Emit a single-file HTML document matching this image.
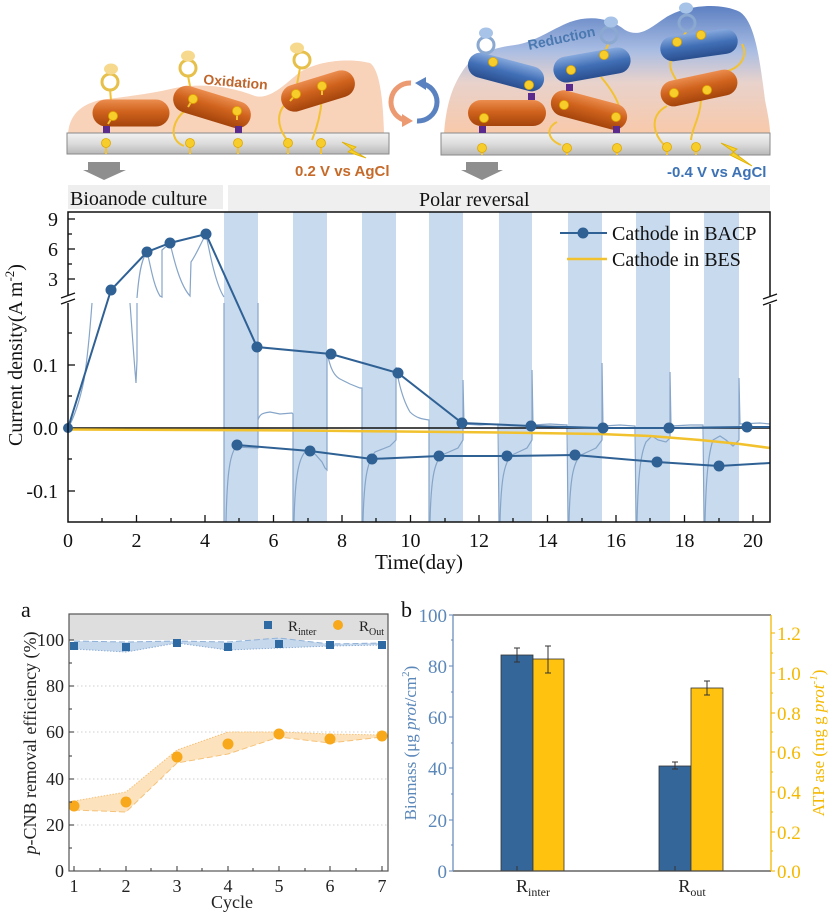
<!DOCTYPE html>
<html>
<head>
<meta charset="utf-8">
<style>
  html,body{margin:0;padding:0;background:#fff;}
  svg{display:block;}
  .serif{font-family:"Liberation Serif","DejaVu Serif",serif;}
  .sans{font-family:"Liberation Sans","DejaVu Sans",sans-serif;}
</style>
</head>
<body>
<svg width="834" height="916" viewBox="0 0 834 916" xmlns="http://www.w3.org/2000/svg">
<defs>
  <linearGradient id="og" x1="0" y1="0" x2="0" y2="1">
    <stop offset="0" stop-color="#eb8d4f"/>
    <stop offset="0.45" stop-color="#d0631d"/>
    <stop offset="1" stop-color="#a4440c"/>
  </linearGradient>
  <linearGradient id="bg" x1="0" y1="0" x2="0" y2="1">
    <stop offset="0" stop-color="#86a9dd"/>
    <stop offset="0.5" stop-color="#416fb6"/>
    <stop offset="1" stop-color="#2a4e8e"/>
  </linearGradient>
  <linearGradient id="bar" x1="0" y1="0" x2="0" y2="1">
    <stop offset="0" stop-color="#f2f2f2"/>
    <stop offset="0.5" stop-color="#dcdcdc"/>
    <stop offset="1" stop-color="#b8b8b8"/>
  </linearGradient>
  <linearGradient id="film2" x1="0" y1="0" x2="0" y2="1">
    <stop offset="0" stop-color="#5d80c2"/>
    <stop offset="0.35" stop-color="#a9bde3"/>
    <stop offset="0.6" stop-color="#e8d2cc"/>
    <stop offset="1" stop-color="#f8c9aa"/>
  </linearGradient>
</defs>

<!-- ================= SCHEMATIC LEFT ================= -->
<path d="M68,133 C70,115 80,105 100,100 C130,96 150,94 175,88 C200,83 230,86 255,96 C270,100 285,84 300,72 C320,60 350,58 370,63 C380,70 383,100 384,133 Z" fill="#f8d2b9"/>
<rect x="67" y="133" width="322" height="21" fill="url(#bar)" stroke="#8a8a8a" stroke-width="1"/>
<g fill="none" stroke="#f2c232" stroke-width="2">
  <path d="M186,110 C172,120 168,140 184,146"/>
  <path d="M290,100 C276,110 276,125 287,140"/>
  <path d="M322,92 C322,110 318,125 312,140"/>
  <path d="M110,89 L112,112"/>
  <path d="M188,76 L192,96"/>
  <path d="M300,68 L296,90"/>
</g>
<g fill="none" stroke="#e6c04a" stroke-width="3">
  <circle cx="110" cy="82" r="8"/>
  <circle cx="188" cy="68" r="8"/>
  <circle cx="302" cy="60" r="8"/>
</g>
<g fill="#f7d98e">
  <ellipse cx="111" cy="69" rx="7" ry="5.5"/>
  <ellipse cx="188" cy="56" rx="7" ry="5.5"/>
  <ellipse cx="297" cy="48" rx="7" ry="5.5"/>
</g>
<g transform="translate(131,113)"><rect x="-38.5" y="-13.5" width="77" height="27" rx="13.5" fill="url(#og)"/></g>
<g transform="translate(212,107) rotate(17)"><rect x="-40" y="-13.5" width="80" height="27" rx="13.5" fill="url(#og)"/></g>
<g transform="translate(318,91) rotate(-17)"><rect x="-38" y="-13.5" width="76" height="27" rx="13.5" fill="url(#og)"/></g>
<rect x="103" y="126" width="7" height="7" fill="#5a2a8c"/>
<rect x="235" y="126" width="7" height="7" fill="#5a2a8c"/>
<g stroke="#f2c232" stroke-width="2">
  <line x1="106" y1="143" x2="106" y2="154"/><line x1="190" y1="143" x2="190" y2="154"/>
  <line x1="238" y1="143" x2="238" y2="154"/><line x1="288" y1="143" x2="288" y2="154"/>
  <line x1="321" y1="143" x2="321" y2="154"/>
  <line x1="113" y1="116" x2="108" y2="124"/><line x1="193" y1="99" x2="188" y2="107"/>
  <line x1="237" y1="111" x2="237" y2="120"/><line x1="296" y1="94" x2="290" y2="101"/>
  <line x1="322" y1="86" x2="322" y2="95"/>
</g>
<g fill="#f7cd2b" stroke="#e0a800" stroke-width="0.8">
  <circle cx="106" cy="143" r="4.5"/><circle cx="190" cy="143" r="4.5"/><circle cx="238" cy="143" r="4.5"/>
  <circle cx="288" cy="143" r="4.5"/><circle cx="321" cy="143" r="4.5"/>
  <circle cx="113" cy="116" r="4.5"/><circle cx="193" cy="99" r="4.5"/><circle cx="237" cy="111" r="4.5"/>
  <circle cx="296" cy="94" r="4.5"/><circle cx="322" cy="86" r="4.5"/>
</g>
<text x="203" y="84" class="sans" font-size="14" font-weight="bold" fill="#c0662c" transform="rotate(5 203 84)">Oxidation</text>
<polygon points="342,142 356,147 352,150 366,158 348,152 352,149" fill="#f6d02a" stroke="#e0b000" stroke-width="0.8"/>
<text x="295" y="176" class="sans" font-size="15" font-weight="bold" fill="#c66a2a">0.2 V vs AgCl</text>
<polygon points="88,162 120,162 120,170 126,170 104,180 83,170 88,170" fill="#8e8e8e"/>

<!-- circular arrows -->
<path d="M411,83 A19,19 0 0 0 404,120" fill="none" stroke="#ec9a72" stroke-width="5"/>
<polygon points="402,114 413,121 402,127" fill="#ec9a72"/>
<path d="M417,121 A19,19 0 0 0 424,84" fill="none" stroke="#5b82c0" stroke-width="5"/>
<polygon points="426,77 415,83 426,90" fill="#5b82c0"/>

<!-- ================= SCHEMATIC RIGHT ================= -->
<path d="M444,133 C446,110 450,90 462,72 C472,55 490,48 515,45 C535,42 550,30 570,22 C590,15 610,18 625,30 C640,38 650,28 665,18 C685,5 720,2 740,12 C755,22 760,60 765,100 C768,115 770,125 770,133 Z" fill="url(#film2)"/>
<rect x="441" y="133" width="329" height="22" fill="url(#bar)" stroke="#8a8a8a" stroke-width="1"/>
<g fill="none" stroke="#f2c232" stroke-width="2">
  <path d="M557,122 C545,128 548,140 561,145"/>
  <path d="M601,77 C612,90 618,100 620,110"/>
  <path d="M671,60 C668,70 675,76 677,82"/>
  <path d="M724,72 C742,68 748,55 742,44"/>
  <path d="M667,106 C650,115 652,132 664,145"/>
  <path d="M701,100 C700,118 692,128 691,140"/>
  <path d="M486,53 L492,60"/>
  <path d="M609,43 L604,53"/>
  <path d="M687,31 L680,40"/>
</g>
<g fill="none" stroke="#8aa8d0" stroke-width="3">
  <circle cx="486" cy="45" r="8"/>
  <circle cx="609" cy="35" r="8"/>
  <circle cx="687" cy="23" r="8"/>
</g>
<g fill="#a7c3e8">
  <ellipse cx="486" cy="33" rx="7" ry="5.5"/>
  <ellipse cx="611" cy="22" rx="7" ry="5.5"/>
  <ellipse cx="686" cy="8" rx="7" ry="5.5"/>
</g>
<g transform="translate(507,113)"><rect x="-39" y="-13" width="78" height="26" rx="13" fill="url(#og)"/></g>
<g transform="translate(589,110) rotate(15)"><rect x="-39" y="-13" width="78" height="26" rx="13" fill="url(#og)"/></g>
<g transform="translate(699,88) rotate(-12)"><rect x="-39" y="-13" width="78" height="26" rx="13" fill="url(#og)"/></g>
<g transform="translate(506,72) rotate(15)"><rect x="-39" y="-12.5" width="78" height="25" rx="12.5" fill="url(#bg)"/></g>
<g transform="translate(592,65) rotate(-10)"><rect x="-39" y="-13" width="78" height="26" rx="13" fill="url(#bg)"/></g>
<g transform="translate(699,45) rotate(-8)"><rect x="-39" y="-12.5" width="78" height="25" rx="12.5" fill="url(#bg)"/></g>
<g fill="#5a2a8c">
  <rect x="528" y="93" width="7" height="7"/><rect x="566" y="84" width="7" height="7"/>
  <rect x="479" y="126" width="7" height="7"/><rect x="613" y="126" width="7" height="7"/>
</g>
<g stroke="#f2c232" stroke-width="2">
  <line x1="482" y1="148" x2="482" y2="155"/><line x1="567" y1="148" x2="567" y2="155"/>
  <line x1="617" y1="148" x2="617" y2="155"/><line x1="667" y1="147" x2="667" y2="155"/>
  <line x1="696" y1="147" x2="696" y2="155"/>
</g>
<g fill="#f7cd2b" stroke="#e0a800" stroke-width="0.8">
  <circle cx="482" cy="148" r="4.5"/><circle cx="567" cy="148" r="4.5"/><circle cx="617" cy="148" r="4.5"/>
  <circle cx="667" cy="147" r="4.5"/><circle cx="696" cy="147" r="4.5"/>
  <circle cx="493" cy="62" r="4.5"/><circle cx="529" cy="85" r="4.5"/><circle cx="571" cy="70" r="4.5"/>
  <circle cx="604" cy="55" r="4.5"/><circle cx="677" cy="42" r="4.5"/><circle cx="701" cy="35" r="4.5"/>
  <circle cx="484" cy="118" r="4.5"/><circle cx="564" cy="105" r="4.5"/><circle cx="616" cy="117" r="4.5"/>
  <circle cx="674" cy="93" r="4.5"/><circle cx="707" cy="90" r="4.5"/>
</g>
<text x="529" y="50" class="sans" font-size="14" font-weight="bold" fill="#4a78b0" transform="rotate(-12 529 50)">Reduction</text>
<polygon points="721,143 737,149 733,152 752,166 730,155 734,152" fill="#f6d02a" stroke="#e0b000" stroke-width="0.8"/>
<text x="667" y="177" class="sans" font-size="15" font-weight="bold" fill="#3d72b5">-0.4 V vs AgCl</text>
<polygon points="466,162 498,162 498,170 503,170 482,180 461,170 466,170" fill="#8e8e8e"/>

<!-- ================= MAIN CHART ================= -->
<rect x="68" y="185" width="155" height="24" fill="#eeeeee"/>
<text x="70" y="205" class="serif" font-size="20" fill="#111">Bioanode culture</text>
<rect x="228" y="185" width="542" height="27" fill="#efefef"/>
<text x="419" y="206" class="serif" font-size="20" fill="#111">Polar reversal</text>

<g fill="#c8daee">
  <rect x="224" y="212" width="34" height="310"/>
  <rect x="293" y="212" width="34" height="310"/>
  <rect x="362" y="212" width="34" height="310"/>
  <rect x="429" y="212" width="34" height="310"/>
  <rect x="499" y="212" width="33" height="310"/>
  <rect x="568" y="212" width="34" height="310"/>
  <rect x="636" y="212" width="34" height="310"/>
  <rect x="704" y="212" width="35" height="310"/>
</g>

<g fill="none" stroke="#86a5c8" stroke-width="1.2">
  <path d="M68,428 C74,418 80,400 84,380 C88,355 90,330 92,303"/>
  <path d="M130,303 C132,330 134,360 136,383 L137,360 L137,303"/>
  <path d="M137,298 C139,272 142,258 147,252 C150,262 153,285 160,296 L162,297 L162,250 L170,243 C174,260 180,285 190,296 L191,262 C196,255 200,245 206,234 C210,255 216,285 224,297"/>
  <path d="M224,303 L224,522"/>
  <path d="M226,522 C227,480 229,455 236,447 L257,448 L258,448 L258,303 M258,420 C260,413 264,413 270,412 L280,414 L292,413 L293,414 L293,522"/>
  <path d="M294,522 C295,480 298,460 305,452 L315,454 L322,462 L325,468 L327,470 L327,352 C330,368 334,377 342,380 L350,384 L360,388 L362,388 L362,522"/>
  <path d="M363,522 C364,480 367,462 375,452 L390,446 L396,440 L396,367 C399,385 404,402 410,412 C416,418 422,419 429,420 L429,522"/>
  <path d="M430,522 C431,480 434,462 442,455 L458,448 L463,440 L463,380 L464,424 L480,425 L498,424 L499,522"/>
  <path d="M500,522 C501,480 504,462 512,455 L527,448 L532,440 L532,370 L533,425 L550,424 L567,425 L568,522"/>
  <path d="M569,522 C570,480 573,462 581,455 L596,448 L602,440 L602,363 L603,426 L620,425 L635,426 L636,522"/>
  <path d="M637,522 C638,480 640,455 646,442 L652,436 L658,440 L666,442 L670,438 L670,372 L671,426 L690,425 L703,425 L704,522"/>
  <path d="M705,522 C706,480 708,455 713,440 L720,436 L726,440 L733,446 L739,440 L739,378 L740,424 L760,423 L770,424"/>
</g>

<line x1="68" y1="428" x2="770" y2="428" stroke="#111" stroke-width="1.5"/>
<path d="M68,429.5 L300,430.5 L400,431.5 L500,432.5 L600,434 L650,436 L700,440 L740,444 L770,448" fill="none" stroke="#f2c12e" stroke-width="2.5"/>

<g fill="none" stroke="#2f6195" stroke-width="2">
  <polyline points="68,428 111,290 147,252 170,243 206,234 257,347 331,354 398,373 462,423 531,426 603,428 669,428 747,427 770,427"/>
  <polyline points="237,445 310,451 372,459 439,456 507,456 575,455 657,462 719,466 770,463"/>
</g>
<g fill="#2f6195">
  <circle cx="68" cy="428" r="5"/><circle cx="111" cy="290" r="5.5"/><circle cx="147" cy="252" r="5.5"/>
  <circle cx="170" cy="243" r="5.5"/><circle cx="206" cy="234" r="5.5"/><circle cx="257" cy="347" r="5.5"/>
  <circle cx="331" cy="354" r="5.5"/><circle cx="398" cy="373" r="5.5"/><circle cx="462" cy="423" r="5.5"/>
  <circle cx="531" cy="426" r="5.5"/><circle cx="603" cy="428" r="5.5"/><circle cx="669" cy="428" r="5.5"/>
  <circle cx="747" cy="427" r="5.5"/>
  <circle cx="237" cy="445" r="5.5"/><circle cx="310" cy="451" r="5.5"/><circle cx="372" cy="459" r="5.5"/>
  <circle cx="439" cy="456" r="5.5"/><circle cx="507" cy="456" r="5.5"/><circle cx="575" cy="455" r="5.5"/>
  <circle cx="657" cy="462" r="5.5"/><circle cx="719" cy="466" r="5.5"/>
</g>

<rect x="68" y="212" width="702" height="310" fill="none" stroke="#111" stroke-width="1.5"/>
<rect x="64" y="295" width="8" height="8" fill="#fff"/>
<line x1="61" y1="298" x2="75" y2="293" stroke="#111" stroke-width="1.3"/>
<line x1="61" y1="304" x2="75" y2="299" stroke="#111" stroke-width="1.3"/>
<rect x="766" y="296" width="8" height="8" fill="#fff"/>
<line x1="763" y1="299" x2="777" y2="294" stroke="#111" stroke-width="1.3"/>
<line x1="763" y1="305" x2="777" y2="300" stroke="#111" stroke-width="1.3"/>

<g stroke="#111" stroke-width="1.3">
  <line x1="68" y1="219" x2="75" y2="219"/><line x1="68" y1="234" x2="72" y2="234"/>
  <line x1="68" y1="249" x2="75" y2="249"/><line x1="68" y1="264" x2="72" y2="264"/>
  <line x1="68" y1="279" x2="75" y2="279"/>
  <line x1="68" y1="333" x2="72" y2="333"/><line x1="68" y1="365" x2="75" y2="365"/>
  <line x1="68" y1="396" x2="72" y2="396"/><line x1="68" y1="459" x2="72" y2="459"/>
  <line x1="68" y1="491" x2="75" y2="491"/>
</g>
<g stroke="#111" stroke-width="1.3">
  <line x1="136.5" y1="522" x2="136.5" y2="515"/><line x1="205" y1="522" x2="205" y2="515"/>
  <line x1="273.5" y1="522" x2="273.5" y2="515"/><line x1="342" y1="522" x2="342" y2="515"/>
  <line x1="410.5" y1="522" x2="410.5" y2="515"/><line x1="479" y1="522" x2="479" y2="515"/>
  <line x1="547.5" y1="522" x2="547.5" y2="515"/><line x1="616" y1="522" x2="616" y2="515"/>
  <line x1="684.5" y1="522" x2="684.5" y2="515"/><line x1="753" y1="522" x2="753" y2="515"/>
  <line x1="102" y1="522" x2="102" y2="518"/><line x1="171" y1="522" x2="171" y2="518"/>
  <line x1="239" y1="522" x2="239" y2="518"/><line x1="308" y1="522" x2="308" y2="518"/>
  <line x1="376" y1="522" x2="376" y2="518"/><line x1="445" y1="522" x2="445" y2="518"/>
  <line x1="513" y1="522" x2="513" y2="518"/><line x1="582" y1="522" x2="582" y2="518"/>
  <line x1="650" y1="522" x2="650" y2="518"/><line x1="719" y1="522" x2="719" y2="518"/>
</g>
<g class="serif" font-size="20" fill="#111" text-anchor="end">
  <text x="58" y="226">9</text><text x="58" y="256">6</text><text x="58" y="286">3</text>
  <text x="58" y="372">0.1</text><text x="58" y="435">0.0</text><text x="58" y="498">-0.1</text>
</g>
<g class="serif" font-size="20" fill="#111" text-anchor="middle">
  <text x="68" y="547">0</text><text x="136.5" y="547">2</text><text x="205" y="547">4</text>
  <text x="273.5" y="547">6</text><text x="342" y="547">8</text><text x="410.5" y="547">10</text>
  <text x="479" y="547">12</text><text x="547.5" y="547">14</text><text x="616" y="547">16</text>
  <text x="684.5" y="547">18</text><text x="753" y="547">20</text>
  <text x="419" y="569" font-size="21">Time(day)</text>
</g>
<text transform="translate(22,355) rotate(-90)" class="serif" font-size="20" fill="#111" text-anchor="middle">Current density(A m<tspan font-size="13" dy="-8">-2</tspan><tspan dy="8">)</tspan></text>

<line x1="560" y1="233" x2="607" y2="233" stroke="#2f6195" stroke-width="2"/>
<circle cx="583" cy="233" r="5.5" fill="#2f6195"/>
<text x="612" y="240" class="serif" font-size="20" fill="#111">Cathode in BACP</text>
<line x1="567" y1="259" x2="607" y2="259" stroke="#f2c12e" stroke-width="2.5"/>
<text x="612" y="266" class="serif" font-size="20" fill="#111">Cathode in BES</text>

<!-- ================= PANEL A ================= -->
<text x="21" y="617" class="serif" font-size="22" fill="#111">a</text>
<rect x="69" y="614" width="319" height="26" fill="#dedede"/>
<g stroke="#cfcfcf" stroke-width="1" stroke-dasharray="1.5,2.5">
  <line x1="69" y1="825" x2="388" y2="825"/><line x1="69" y1="779" x2="388" y2="779"/>
  <line x1="69" y1="732" x2="388" y2="732"/><line x1="69" y1="686" x2="388" y2="686"/>
</g>
<polygon points="74,641 126,642 177,641 228,642 279,638 330,644 382,643 382,645 330,646 279,648 228,650 177,643 126,652 74,649" fill="#c6d8ec"/>
<polyline points="74,641 126,642 177,641 228,642 279,638 330,644 382,643" fill="none" stroke="#8fb0d6" stroke-width="1" stroke-dasharray="6,3"/>
<polyline points="74,649 126,652 177,643 228,650 279,648 330,646 382,645" fill="none" stroke="#8fb0d6" stroke-width="1" stroke-dasharray="1.5,1.5"/>
<polygon points="74,801 126,792 177,750 228,732 279,732 330,734 382,735 382,737 330,743 279,737 228,754 177,763 126,812 74,810" fill="#fde3bd"/>
<polyline points="74,801 126,792 177,750 228,732 279,732 330,734 382,735" fill="none" stroke="#f5c27a" stroke-width="1" stroke-dasharray="1.5,1.5"/>
<polyline points="74,810 126,812 177,763 228,754 279,737 330,743 382,737" fill="none" stroke="#f5c27a" stroke-width="1" stroke-dasharray="6,3"/>
<g fill="#2f6aa3">
  <rect x="70" y="642" width="8" height="8"/><rect x="122" y="643" width="8" height="8"/>
  <rect x="173" y="639" width="8" height="8"/><rect x="224" y="643" width="8" height="8"/>
  <rect x="275" y="640" width="8" height="8"/><rect x="326" y="641" width="8" height="8"/>
  <rect x="378" y="641" width="8" height="8"/>
</g>
<g fill="#f7a81b">
  <circle cx="74" cy="806" r="5.5"/><circle cx="126" cy="802" r="5.5"/><circle cx="177" cy="757" r="5.5"/>
  <circle cx="228" cy="744" r="5.5"/><circle cx="279" cy="734" r="5.5"/><circle cx="330" cy="739" r="5.5"/>
  <circle cx="382" cy="736" r="5.5"/>
</g>
<rect x="69" y="614" width="319" height="257" fill="none" stroke="#555" stroke-width="1.2"/>
<g stroke="#444" stroke-width="1.1">
  <line x1="69" y1="825" x2="74" y2="825"/><line x1="69" y1="779" x2="74" y2="779"/>
  <line x1="69" y1="732" x2="74" y2="732"/><line x1="69" y1="686" x2="74" y2="686"/>
  <line x1="69" y1="640" x2="74" y2="640"/>
  <line x1="69" y1="848" x2="72" y2="848"/><line x1="69" y1="802" x2="72" y2="802"/>
  <line x1="69" y1="756" x2="72" y2="756"/><line x1="69" y1="709" x2="72" y2="709"/>
  <line x1="69" y1="663" x2="72" y2="663"/>
  <line x1="74" y1="871" x2="74" y2="866"/><line x1="126" y1="871" x2="126" y2="866"/>
  <line x1="177" y1="871" x2="177" y2="866"/><line x1="228" y1="871" x2="228" y2="866"/>
  <line x1="279" y1="871" x2="279" y2="866"/><line x1="330" y1="871" x2="330" y2="866"/>
  <line x1="382" y1="871" x2="382" y2="866"/>
  <line x1="100" y1="871" x2="100" y2="868"/><line x1="151" y1="871" x2="151" y2="868"/>
  <line x1="202" y1="871" x2="202" y2="868"/><line x1="253" y1="871" x2="253" y2="868"/>
  <line x1="305" y1="871" x2="305" y2="868"/><line x1="356" y1="871" x2="356" y2="868"/>
</g>
<g class="serif" font-size="18" fill="#222" text-anchor="end">
  <text x="64" y="877">0</text><text x="64" y="831">20</text><text x="64" y="785">40</text>
  <text x="64" y="738">60</text><text x="64" y="692">80</text><text x="64" y="646">100</text>
</g>
<g class="serif" font-size="18" fill="#222" text-anchor="middle">
  <text x="74" y="892">1</text><text x="126" y="892">2</text><text x="177" y="892">3</text>
  <text x="228" y="892">4</text><text x="279" y="892">5</text><text x="330" y="892">6</text>
  <text x="382" y="892">7</text>
  <text x="232" y="908">Cycle</text>
</g>
<text transform="translate(36,743) rotate(-90)" class="serif" font-size="18" fill="#222" text-anchor="middle"><tspan font-style="italic">p</tspan>-CNB removal efficiency (%)</text>
<rect x="264" y="621" width="8" height="8" fill="#2f6aa3"/>
<text x="288" y="631" class="serif" font-size="15" fill="#222">R<tspan font-size="10" dy="4">inter</tspan></text>
<circle cx="338" cy="625" r="5" fill="#f7a81b"/>
<text x="359" y="631" class="serif" font-size="15" fill="#222">R<tspan font-size="10" dy="4">Out</tspan></text>

<!-- ================= PANEL B ================= -->
<text x="401" y="617" class="serif" font-size="22" fill="#111">b</text>
<rect x="501" y="655" width="32" height="216" fill="#346699" stroke="#333" stroke-width="0.8"/>
<rect x="533" y="659" width="31" height="212" fill="#fec20f" stroke="#333" stroke-width="0.8"/>
<rect x="659" y="766" width="32" height="105" fill="#346699" stroke="#333" stroke-width="0.8"/>
<rect x="691" y="688" width="32" height="183" fill="#fec20f" stroke="#333" stroke-width="0.8"/>
<g stroke="#333" stroke-width="1">
  <line x1="517" y1="648" x2="517" y2="662"/><line x1="514" y1="648" x2="520" y2="648"/><line x1="514" y1="662" x2="520" y2="662"/>
  <line x1="548" y1="646" x2="548" y2="673"/><line x1="545" y1="646" x2="551" y2="646"/><line x1="545" y1="673" x2="551" y2="673"/>
  <line x1="675" y1="762" x2="675" y2="769"/><line x1="672" y1="762" x2="678" y2="762"/><line x1="672" y1="769" x2="678" y2="769"/>
  <line x1="707" y1="681" x2="707" y2="695"/><line x1="704" y1="681" x2="710" y2="681"/><line x1="704" y1="695" x2="710" y2="695"/>
  <line x1="517" y1="871" x2="517" y2="866"/><line x1="675" y1="871" x2="675" y2="866"/>
</g>
<line x1="453" y1="615" x2="771" y2="615" stroke="#555" stroke-width="1.3"/>
<line x1="453" y1="871" x2="771" y2="871" stroke="#444" stroke-width="1.3"/>
<line x1="453" y1="615" x2="453" y2="871" stroke="#6b8fbd" stroke-width="1.3"/>
<line x1="771" y1="615" x2="771" y2="871" stroke="#f5b800" stroke-width="1.3"/>
<g stroke="#6b8fbd" stroke-width="1.1">
  <line x1="449" y1="615" x2="453" y2="615"/><line x1="449" y1="666" x2="453" y2="666"/>
  <line x1="449" y1="717" x2="453" y2="717"/><line x1="449" y1="768" x2="453" y2="768"/>
  <line x1="449" y1="820" x2="453" y2="820"/><line x1="449" y1="871" x2="453" y2="871"/>
  <line x1="451" y1="640" x2="453" y2="640"/><line x1="451" y1="692" x2="453" y2="692"/>
  <line x1="451" y1="743" x2="453" y2="743"/><line x1="451" y1="794" x2="453" y2="794"/>
  <line x1="451" y1="845" x2="453" y2="845"/>
</g>
<g stroke="#f5b800" stroke-width="1.1">
  <line x1="771" y1="633" x2="775" y2="633"/><line x1="771" y1="673" x2="775" y2="673"/>
  <line x1="771" y1="713" x2="775" y2="713"/><line x1="771" y1="752" x2="775" y2="752"/>
  <line x1="771" y1="792" x2="775" y2="792"/><line x1="771" y1="832" x2="775" y2="832"/>
  <line x1="771" y1="871" x2="775" y2="871"/>
  <line x1="771" y1="653" x2="773" y2="653"/><line x1="771" y1="693" x2="773" y2="693"/>
  <line x1="771" y1="732" x2="773" y2="732"/><line x1="771" y1="772" x2="773" y2="772"/>
  <line x1="771" y1="812" x2="773" y2="812"/><line x1="771" y1="851" x2="773" y2="851"/>
</g>
<g class="serif" font-size="19" fill="#5b87b9" text-anchor="end">
  <text x="447" y="622">100</text><text x="447" y="673">80</text><text x="447" y="724">60</text>
  <text x="447" y="775">40</text><text x="447" y="827">20</text><text x="447" y="878">0</text>
</g>
<g class="serif" font-size="19" fill="#f5b800">
  <text x="777" y="640">1.2</text><text x="777" y="680">1.0</text><text x="777" y="720">0.8</text>
  <text x="777" y="759">0.6</text><text x="777" y="799">0.4</text><text x="777" y="839">0.2</text>
  <text x="777" y="878">0.0</text>
</g>
<text x="533" y="892" class="serif" font-size="18" fill="#222" text-anchor="middle">R<tspan font-size="12" dy="4">inter</tspan></text>
<text x="692" y="892" class="serif" font-size="18" fill="#222" text-anchor="middle">R<tspan font-size="12" dy="4">out</tspan></text>
<text transform="translate(416,743) rotate(-90)" class="serif" font-size="17" fill="#5b87b9" text-anchor="middle">Biomass (μg <tspan font-style="italic">prot</tspan>/cm<tspan font-size="11" dy="-7">2</tspan><tspan dy="7">)</tspan></text>
<text transform="translate(824,743) rotate(-90)" class="serif" font-size="17" fill="#f5b800" text-anchor="middle">ATP ase (mg g <tspan font-style="italic">prot</tspan><tspan font-size="11" dy="-7" font-style="italic">-1</tspan><tspan dy="7">)</tspan></text>
</svg>
</body>
</html>
